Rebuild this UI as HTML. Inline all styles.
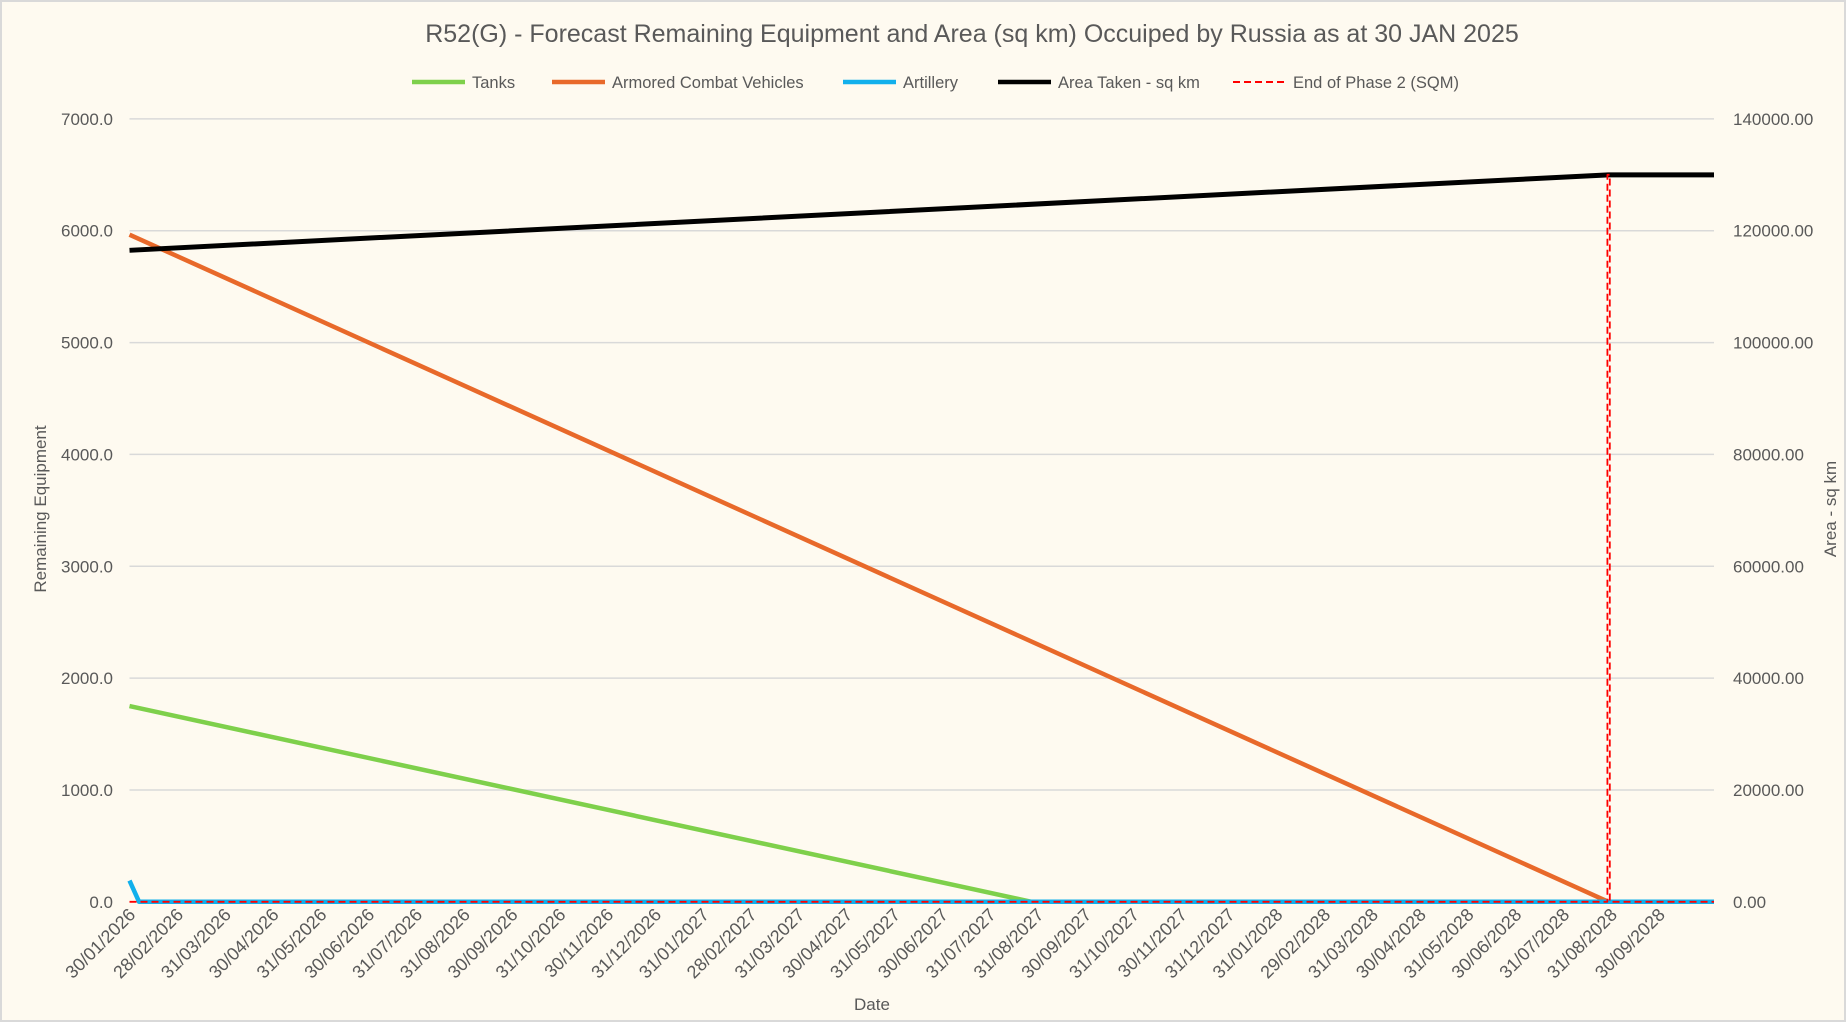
<!DOCTYPE html>
<html><head><meta charset="utf-8"><style>
body{margin:0;background:#fff;}
svg{display:block;font-family:"Liberation Sans",sans-serif;}
</style></head><body>
<svg id="chart" width="1846" height="1022">
<rect x="1" y="1" width="1844" height="1020" fill="#fefaf0" stroke="#d9d9d9" stroke-width="2"/>
<text x="972" y="42" text-anchor="middle" font-size="25" fill="#595959">R52(G) - Forecast Remaining Equipment and Area (sq km) Occuiped by Russia as at 30 JAN 2025</text>
<g id="grid"></g>
<g id="marks"></g>
<g id="axes"></g>
<g id="legend"></g>
<text transform="translate(46,509) rotate(-90)" text-anchor="middle" font-size="17" fill="#595959">Remaining Equipment</text>
<text transform="translate(1836,509) rotate(-90)" text-anchor="middle" font-size="17" fill="#595959">Area - sq km</text>
<text x="872" y="1010" text-anchor="middle" font-size="17" fill="#595959">Date</text>
</svg>
<script>
const dateLabels=["30/01/2026","28/02/2026","31/03/2026","30/04/2026","31/05/2026","30/06/2026","31/07/2026","31/08/2026","30/09/2026","31/10/2026","30/11/2026","31/12/2026","31/01/2027","28/02/2027","31/03/2027","30/04/2027","31/05/2027","30/06/2027","31/07/2027","31/08/2027","30/09/2027","31/10/2027","30/11/2027","31/12/2027","31/01/2028","29/02/2028","31/03/2028","30/04/2028","31/05/2028","30/06/2028","31/07/2028","31/08/2028","30/09/2028"];
const leftTicks=[0,1000,2000,3000,4000,5000,6000,7000];
const rightTicks=[0,20000,40000,60000,80000,100000,120000,140000];
// series points as [month index, value]
const tanks=[[0,1750],[18.87,0],[33.15,0]];
const acv=[[0,5965],[30.94,0],[33.15,0]];
const artillery=[[0,190],[0.2,0],[33.15,0]];
const area=[[0,116500],[30.94,130000],[33.15,130000]];
const phase2=[[0,0],[30.92,0],[30.92,130000],[30.97,130000],[30.97,0],[33.15,0]];
const xMax=33.15;
const L=129.5,R=1714,T=118.9,B=901.8;
const NS="http://www.w3.org/2000/svg";
const x=m=>L+(m/xMax)*(R-L);
const yL=v=>B-(v/7000)*(B-T);
const yR=v=>B-(v/140000)*(B-T);
function el(tag,attrs,parent){const e=document.createElementNS(NS,tag);for(const k in attrs)e.setAttribute(k,attrs[k]);parent.appendChild(e);return e;}
const grid=document.getElementById('grid'),marks=document.getElementById('marks'),axes=document.getElementById('axes'),legend=document.getElementById('legend');
leftTicks.forEach((v,i)=>{
  const g=el('line',{x1:L,x2:R,y1:yL(v),y2:yL(v),stroke:'#d9d9d9','stroke-width':1.5},grid);
  
  
  const t=el('text',{x:113,y:yL(v)+6,'text-anchor':'end','font-size':17,fill:'#595959'},axes);
  t.textContent=v.toFixed(1);
  
  
});
rightTicks.forEach(v=>{
  const t=el('text',{x:1733,y:yR(v)+6,'font-size':17,fill:'#595959'},axes);
  t.textContent=v.toFixed(2);
  
  
});
dateLabels.forEach((d,i)=>{
  const px=x(i);
  const t=el('text',{transform:`translate(${px+7},${B+14}) rotate(-45)`,'text-anchor':'end','font-size':18,fill:'#595959'},axes);
  t.textContent=d;
  
  
});
function line(pts,yf,color,w,dash,name){
  const p=el('polyline',{points:pts.map(q=>x(q[0])+','+yf(q[1])).join(' '),fill:'none',stroke:color,'stroke-width':w,'stroke-linejoin':'round'},marks);
  if(dash)p.setAttribute('stroke-dasharray',dash);
  
  
}
line(tanks,yL,'#7ed04b',4.5,null,'tanks-line');
line(acv,yL,'#e8692a',4.5,null,'acv-line');
line(artillery,yL,'#12b0ec',4.5,null,'artillery-line');
line(area,yR,'#000',5,null,'area-line');
line(phase2,yR,'#ff0000',1.8,'7,4','phase2-line');
const leg=[["Tanks","#7ed04b",412,null],["Armored Combat Vehicles","#e8692a",552,null],["Artillery","#12b0ec",843,null],["Area Taken - sq km","#000",998,null],["End of Phase 2 (SQM)","#ff0000",1233,"7,4"]];
leg.forEach(l=>{
  const ln=el('line',{x1:l[2],x2:l[2]+53,y1:82,y2:82,stroke:l[1],'stroke-width':l[3]?2:4.5},legend);
  if(l[3])ln.setAttribute('stroke-dasharray',l[3]);
  
  
  const t=el('text',{x:l[2]+60,y:88,'font-size':16.5,fill:'#595959'},legend);
  t.textContent=l[0];
  
  
});
</script>
</body></html>
